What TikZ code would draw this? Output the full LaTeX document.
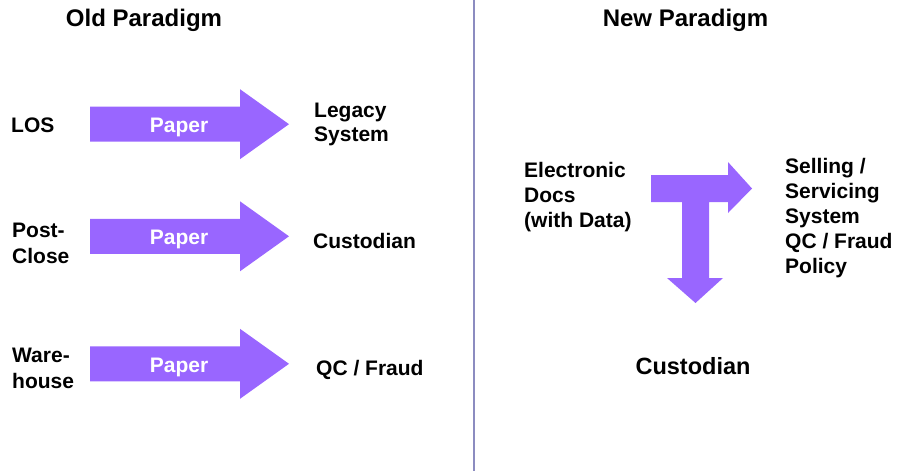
\documentclass[tikz,border=0pt]{standalone}
\usepackage{fontspec}
\setmainfont{Liberation Sans}
\definecolor{arrowfill}{HTML}{9966FF}
\definecolor{divider}{HTML}{8C8CC0}
\tikzset{
  lbl/.style={font=\bfseries\fontsize{21}{25}\selectfont, align=left, anchor=base west, inner sep=0pt},
  title/.style={font=\bfseries\fontsize{24}{28}\selectfont, anchor=base, inner sep=0pt},
  papertext/.style={font=\bfseries\fontsize{21}{25}\selectfont, text=white, anchor=base, inner sep=0pt},
  pics/blockarrow/.style={code={
    \fill[arrowfill] (0,-17.5) -- (150,-17.5) -- (150,-35) -- (199,0)
      -- (150,35) -- (150,17.5) -- (0,17.5) -- cycle;}}
}
\begin{document}
\begin{tikzpicture}[x=1pt,y=-1pt]
\useasboundingbox (0,0) rectangle (899,471);

% divider between the two halves
\coordinate (divtop) at (474,0);
\coordinate (divbot) at (474,471);
\draw[divider, line width=1.7pt] (divtop) -- (divbot);

% headings
\node[title] (oldhead) at (144,27) {Old Paradigm};
\node[title] (newhead) at (685.5,27) {New Paradigm};

% ---- old paradigm: three paper flows ----
\coordinate (arr1) at (90,124.2);
\coordinate (arr2) at (90,236.3);
\coordinate (arr3) at (90,363.8);
\pic at (arr1) {blockarrow};
\pic at (arr2) {blockarrow};
\pic at (arr3) {blockarrow};
\node[papertext] (paper1) at (179,132) {Paper};
\node[papertext] (paper2) at (179,244) {Paper};
\node[papertext] (paper3) at (179,372) {Paper};

% multi-line labels are placed by the baseline of their last line
\node[lbl] (los) at (11,132) {LOS};
\node[lbl, font=\bfseries\fontsize{21}{26}\selectfont] (postclose) at (12,263) {Post-\\Close};
\node[lbl, font=\bfseries\fontsize{21}{26}\selectfont] (warehouse) at (12,388) {Ware-\\house};

\node[lbl, font=\bfseries\fontsize{21}{24}\selectfont] (legacy) at (314,141) {Legacy\\System};
\node[lbl] (custold) at (313,248) {Custodian};
\node[lbl] (qcfraud) at (316,375) {QC / Fraud};

% ---- new paradigm: electronic docs split to systems and custodian ----
\node[lbl] (edocs) at (524,227) {Electronic\\Docs\\(with Data)};
\node[lbl] (selling) at (785,273) {Selling /\\Servicing\\System\\QC / Fraud\\Policy};
\node[title, font=\bfseries\fontsize{23.5}{28}\selectfont] (custnew) at (693,374) {Custodian};

\coordinate (tee) at (651,175);
\fill[arrowfill] (tee) -- (728,175) -- (728,162) -- (752,188.5) -- (728,213)
  -- (728,202) -- (709,202) -- (709,278) -- (723,278) -- (695.5,303)
  -- (667,278) -- (682,278) -- (682,202) -- (651,202) -- cycle;
\end{tikzpicture}
\end{document}
